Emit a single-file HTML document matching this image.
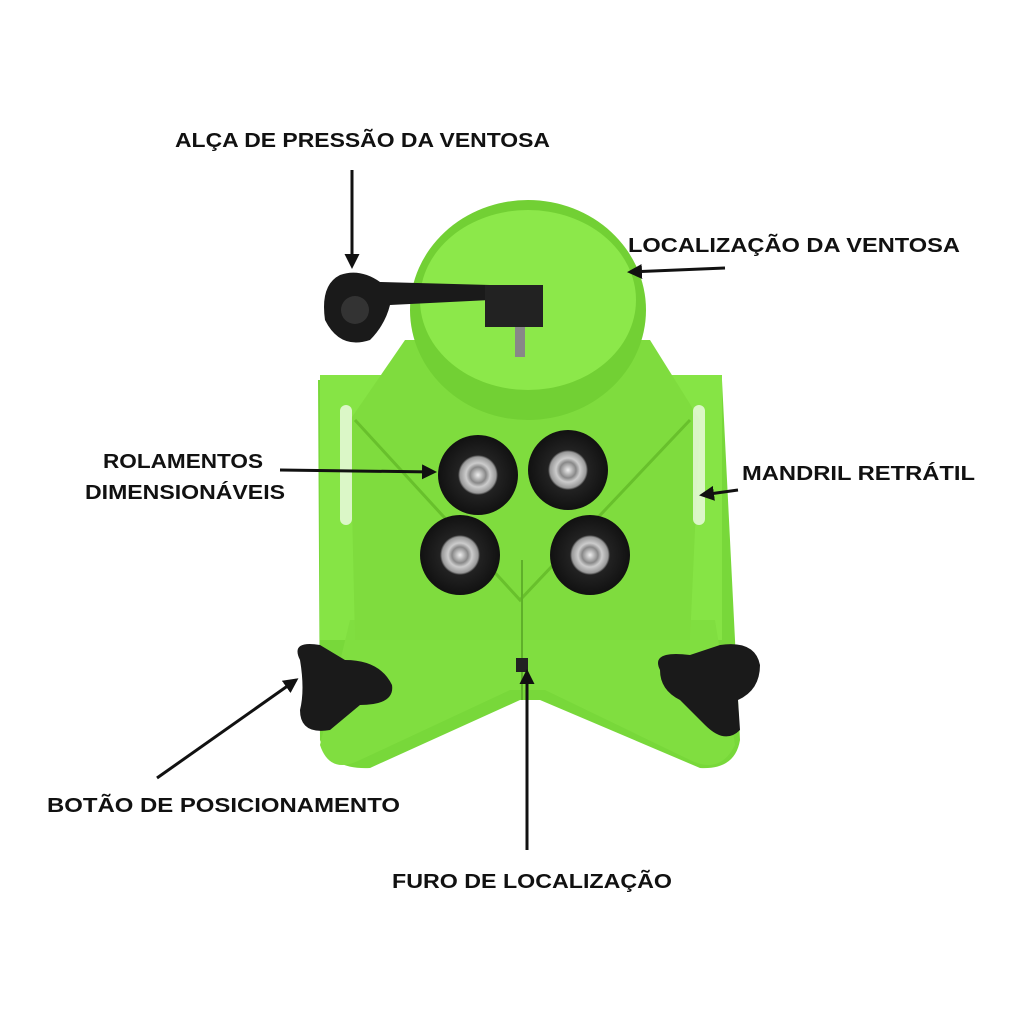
<!DOCTYPE html>
<html><head><meta charset="utf-8"><style>
body{margin:0;background:#fff;width:1024px;height:1024px;overflow:hidden}
svg{display:block}
text{font-family:"Liberation Sans",sans-serif;font-weight:bold;font-size:20px;fill:#111}
</style></head><body>
<svg width="1024" height="1024" viewBox="0 0 1024 1024">
<defs>
<marker id="a" markerWidth="5" markerHeight="5" refX="4" refY="2.5" orient="auto" markerUnits="strokeWidth"><path d="M0,0 L5,2.5 L0,5 z" fill="#111"/></marker>
<radialGradient id="r" cx="50%" cy="50%" r="50%"><stop offset="0" stop-color="#eee"/><stop offset="0.2" stop-color="#888"/><stop offset="0.3" stop-color="#ccc"/><stop offset="0.45" stop-color="#999"/><stop offset="0.5" stop-color="#222"/><stop offset="1" stop-color="#111"/></radialGradient>
</defs>
<path d="M318,380 L722,380 L740,740 Q735,770 700,768 L540,700 L520,700 L370,768 Q330,770 320,740 Z" fill="#78d83a"/>
<path d="M320,375 L385,375 L385,640 L320,640 Z" fill="#86e445"/>
<path d="M660,375 L722,375 L722,640 L660,640 Z" fill="#86e445"/>
<path d="M350,620 L715,620 L735,745 Q720,775 690,760 L545,690 L510,690 L360,760 Q330,775 320,745 Z" fill="#80de40"/>
<path d="M405,340 L650,340 L700,420 L690,640 L355,640 L350,420 Z" fill="#7fdc3e"/>
<path d="M355,420 L520,600 L690,420" fill="none" stroke="#68c02c" stroke-width="3"/>
<line x1="522" y1="560" x2="522" y2="700" stroke="#5fb02a" stroke-width="2"/>
<rect x="516" y="658" width="12" height="14" fill="#222"/>
<rect x="340" y="405" width="12" height="120" rx="6" fill="#fff" opacity=".7"/>
<rect x="693" y="405" width="12" height="120" rx="6" fill="#fff" opacity=".7"/>
<ellipse cx="528" cy="310" rx="118" ry="110" fill="#72d034"/>
<ellipse cx="528" cy="300" rx="108" ry="90" fill="#8ce84a"/>
<path d="M340,275 Q320,285 325,320 Q340,350 370,340 Q385,325 390,305 L490,300 L490,285 L380,282 Q360,268 340,275 Z" fill="#1a1a1a"/>
<circle cx="355" cy="310" r="14" fill="#333"/>
<rect x="485" y="285" width="58" height="42" fill="#222"/>
<rect x="515" y="327" width="10" height="30" fill="#888"/>
<circle cx="478" cy="475" r="40" fill="url(#r)"/>
<circle cx="568" cy="470" r="40" fill="url(#r)"/>
<circle cx="460" cy="555" r="40" fill="url(#r)"/>
<circle cx="590" cy="555" r="40" fill="url(#r)"/>
<path d="M300,660 Q290,640 320,645 L345,660 Q380,660 392,685 Q395,705 360,705 L330,730 Q300,735 300,710 Q305,690 300,660 Z" fill="#1a1a1a"/>
<path d="M660,670 Q650,650 690,655 L720,645 Q755,640 760,665 Q760,690 738,700 L740,730 Q725,745 705,725 L680,700 Q660,690 660,670 Z" fill="#1a1a1a"/>
<text x="175" y="147" textLength="375" lengthAdjust="spacingAndGlyphs">ALÇA DE PRESSÃO DA VENTOSA</text>
<text x="628" y="252" textLength="332" lengthAdjust="spacingAndGlyphs">LOCALIZAÇÃO DA VENTOSA</text>
<text x="103" y="468" textLength="160" lengthAdjust="spacingAndGlyphs">ROLAMENTOS</text>
<text x="85" y="499" textLength="200" lengthAdjust="spacingAndGlyphs">DIMENSIONÁVEIS</text>
<text x="742" y="480" textLength="233" lengthAdjust="spacingAndGlyphs">MANDRIL RETRÁTIL</text>
<text x="47" y="812" textLength="353" lengthAdjust="spacingAndGlyphs">BOTÃO DE POSICIONAMENTO</text>
<text x="392" y="888" textLength="280" lengthAdjust="spacingAndGlyphs">FURO DE LOCALIZAÇÃO</text>
<g stroke="#111" stroke-width="3" fill="none">
<line x1="352" y1="170" x2="352" y2="266" marker-end="url(#a)"/>
<line x1="725" y1="268" x2="630" y2="272" marker-end="url(#a)"/>
<line x1="280" y1="470" x2="434" y2="472" marker-end="url(#a)"/>
<line x1="738" y1="490" x2="702" y2="495" marker-end="url(#a)"/>
<line x1="157" y1="778" x2="296" y2="680" marker-end="url(#a)"/>
<line x1="527" y1="850" x2="527" y2="672" marker-end="url(#a)"/>
</g>
</svg>
</body></html>
